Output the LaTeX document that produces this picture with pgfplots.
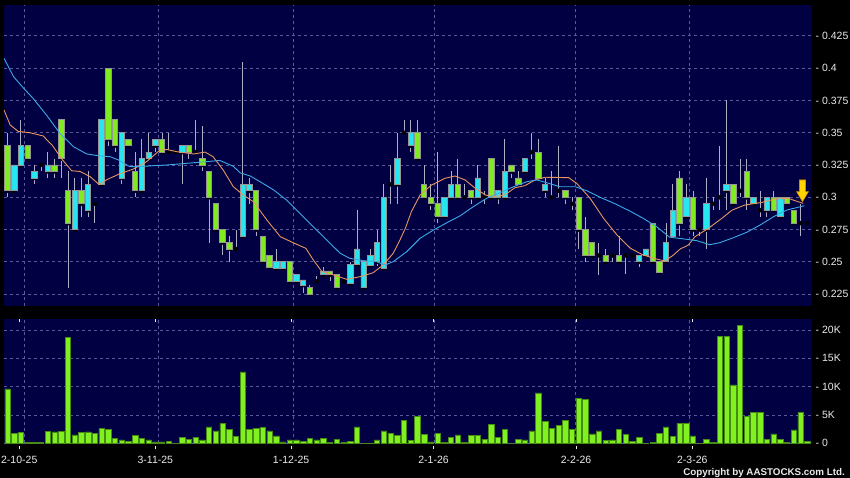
\documentclass[border=0pt]{standalone}
\usepackage{fontspec}
\setmainfont{Liberation Sans}
\usepackage{pgfplots}
\pgfplotsset{compat=1.18}
\usepackage{pgfplotstable}

\definecolor{navy}{RGB}{0,0,66}
\definecolor{gridc}{RGB}{88,88,155}
\definecolor{cgreen}{RGB}{128,236,32}
\definecolor{ccyan}{RGB}{40,230,240}
\definecolor{cedge}{RGB}{150,150,150}
\definecolor{wick}{RGB}{175,175,195}
\definecolor{maor}{RGB}{232,150,95}
\definecolor{mabl}{RGB}{60,170,230}
\definecolor{vgreen}{RGB}{128,240,32}
\definecolor{vedge}{RGB}{70,140,20}
\definecolor{lab}{RGB}{235,235,235}
\definecolor{arrowy}{RGB}{255,212,0}
\definecolor{arrowo}{RGB}{210,140,0}

% candles: index, low, high, body low, body high, colour (1 green, 2 cyan, 0 doji)
\pgfplotstableread{
x lo hi bl bh c
0 0.30 0.35 0.305 0.34 1
1 0.305 0.325 0.305 0.325 2
2 0.325 0.36 0.325 0.34 2
3 0.33 0.34 0.33 0.34 1
4 0.31 0.325 0.315 0.32 2
5 0.32 0.325 0.325 0.325 0
6 0.315 0.335 0.32 0.325 2
7 0.315 0.33 0.32 0.325 1
8 0.315 0.36 0.33 0.36 1
9 0.23 0.32 0.28 0.305 1
10 0.275 0.315 0.275 0.305 2
11 0.285 0.315 0.295 0.305 1
12 0.285 0.32 0.29 0.31 2
13 0.28 0.295 0.295 0.295 0
14 0.31 0.36 0.31 0.36 2
15 0.34 0.40 0.345 0.40 1
16 0.335 0.36 0.34 0.36 1
17 0.31 0.35 0.315 0.35 2
18 0.34 0.345 0.34 0.345 1
19 0.30 0.335 0.305 0.32 1
20 0.305 0.345 0.305 0.33 2
21 0.33 0.35 0.33 0.335 2
22 0.335 0.345 0.34 0.345 2
23 0.335 0.35 0.335 0.345 1
24 0.335 0.35 0.335 0.335 0
25 0.335 0.335 0.335 0.335 0
26 0.31 0.34 0.335 0.34 2
27 0.33 0.34 0.335 0.34 1
28 0.335 0.36 0.335 0.335 0
29 0.32 0.355 0.325 0.33 1
30 0.265 0.32 0.30 0.32 1
31 0.275 0.295 0.275 0.295 1
32 0.255 0.275 0.265 0.275 1
33 0.25 0.27 0.26 0.265 1
34 0.26 0.275 0.26 0.26 0
35 0.27 0.405 0.27 0.31 2
36 0.295 0.315 0.305 0.31 2
37 0.27 0.305 0.275 0.305 1
38 0.25 0.27 0.25 0.27 1
39 0.246 0.255 0.246 0.255 1
40 0.245 0.26 0.245 0.25 2
41 0.245 0.25 0.245 0.25 2
42 0.235 0.25 0.235 0.25 1
43 0.235 0.24 0.235 0.24 2
44 0.226 0.236 0.232 0.236 2
45 0.225 0.232 0.225 0.23 1
46 0.235 0.239 0.235 0.235 0
47 0.24 0.246 0.24 0.243 2
48 0.235 0.243 0.24 0.243 1
49 0.23 0.24 0.23 0.24 1
50 0.235 0.235 0.235 0.235 0
51 0.233 0.25 0.233 0.248 2
52 0.248 0.29 0.248 0.26 2
53 0.23 0.25 0.23 0.25 2
54 0.247 0.26 0.247 0.255 2
55 0.247 0.275 0.25 0.265 2
56 0.245 0.31 0.245 0.30 2
57 0.295 0.325 0.31 0.31 0
58 0.295 0.35 0.31 0.33 2
59 0.35 0.36 0.35 0.35 0
60 0.335 0.36 0.34 0.35 2
61 0.33 0.36 0.33 0.35 1
62 0.30 0.325 0.30 0.31 1
63 0.29 0.31 0.295 0.30 1
64 0.28 0.335 0.285 0.295 1
65 0.285 0.30 0.285 0.30 2
66 0.30 0.32 0.30 0.31 2
67 0.30 0.33 0.30 0.31 1
68 0.30 0.31 0.30 0.30 0
69 0.295 0.305 0.30 0.305 1
70 0.30 0.325 0.30 0.315 2
71 0.295 0.305 0.30 0.30 0
72 0.30 0.33 0.30 0.33 1
73 0.295 0.305 0.30 0.305 2
74 0.30 0.345 0.30 0.32 2
75 0.315 0.325 0.32 0.325 1
76 0.31 0.32 0.31 0.315 1
77 0.32 0.33 0.32 0.33 2
78 0.33 0.35 0.335 0.335 0
79 0.315 0.345 0.315 0.335 1
80 0.30 0.315 0.305 0.31 2
81 0.30 0.32 0.30 0.30 0
82 0.30 0.34 0.305 0.305 0
83 0.295 0.305 0.30 0.305 1
84 0.29 0.30 0.295 0.295 0
85 0.26 0.30 0.275 0.30 1
86 0.25 0.285 0.255 0.275 1
87 0.255 0.265 0.255 0.265 1
88 0.24 0.265 0.255 0.255 0
89 0.25 0.26 0.25 0.255 1
90 0.25 0.255 0.255 0.255 0
91 0.25 0.27 0.25 0.255 1
92 0.241 0.255 0.255 0.255 0
93 0.255 0.255 0.255 0.255 0
94 0.246 0.255 0.25 0.255 2
95 0.255 0.26 0.255 0.26 2
96 0.25 0.28 0.25 0.28 1
97 0.241 0.25 0.242 0.25 1
98 0.25 0.28 0.25 0.265 2
99 0.27 0.31 0.27 0.29 2
100 0.27 0.32 0.28 0.315 1
101 0.285 0.31 0.285 0.30 2
102 0.27 0.305 0.275 0.30 1
103 0.27 0.275 0.275 0.275 0
104 0.26 0.315 0.275 0.295 2
105 0.29 0.30 0.295 0.295 0
106 0.29 0.34 0.30 0.30 0
107 0.29 0.375 0.305 0.31 2
108 0.295 0.31 0.295 0.31 1
109 0.30 0.33 0.305 0.305 0
110 0.29 0.33 0.30 0.32 1
111 0.295 0.30 0.295 0.30 2
112 0.285 0.305 0.29 0.29 0
113 0.285 0.30 0.29 0.30 2
114 0.29 0.305 0.29 0.30 1
115 0.285 0.30 0.285 0.30 2
116 0.295 0.30 0.295 0.30 1
117 0.28 0.29 0.28 0.29 1
118 0.27 0.295 0.28 0.28 0
119 0.28 0.28 0.28 0.28 0
}\candles

% volume in thousands
\pgfplotstableread{
x v
0 9.6
1 1.8
2 1.9
3 0.2
4 0.1
5 0.2
6 2.1
7 2.0
8 2.1
9 18.7
10 1.5
11 1.9
12 2.0
13 1.8
14 2.6
15 2.4
16 0.9
17 0.6
18 0.35
19 1.35
20 0.9
21 0.6
22 0.25
23 0.25
24 0.35
25 0.05
26 1.05
27 0.65
28 1.1
29 0.6
30 2.9
31 2.2
32 3.5
33 2.5
34 1.2
35 12.6
36 2.4
37 2.7
38 2.8
39 2.2
40 1.3
41 0.25
42 0.6
43 0.6
44 0.4
45 0.9
46 0.6
47 0.8
48 0.2
49 0.75
50 0.1
51 0.3
52 2.9
53 0.05
54 0.05
55 0.6
56 2.2
57 1.8
58 1.35
59 4.1
60 0.5
61 4.8
62 1.6
63 0.25
64 1.7
65 0.2
66 1.1
67 1.5
68 0.2
69 1.35
70 1.4
71 0.75
72 3.35
73 1.1
74 2.5
75 0.0
76 0.7
77 0.6
78 2.2
79 8.9
80 3.8
81 2.7
82 3.1
83 4.1
84 2.5
85 7.9
86 7.8
87 1.65
88 2.2
89 0.5
90 0.6
91 2.5
92 1.6
93 0.35
94 1.05
95 0.0
96 0.1
97 1.8
98 2.9
99 1.2
100 3.5
101 3.5
102 1.3
103 0.05
104 0.65
105 0.2
106 18.8
107 18.9
108 10.3
109 20.8
110 4.8
111 5.4
112 5.5
113 0.75
114 1.65
115 0.7
116 0.1
117 2.35
118 5.5
119 0.35
}\volume

% short moving average (orange)
\pgfplotstableread{
x y
-0.52 0.3676
0.4 0.356
1.6 0.351
3.3 0.350
5.3 0.3475
6.7 0.340
8.1 0.3295
9.55 0.3205
10.8 0.320
12.3 0.316
13.6 0.310
14.8 0.3137
16.7 0.3182
18.7 0.3218
20.7 0.3276
22.7 0.3366
23.7 0.337
25.2 0.3353
27.7 0.3335
29.4 0.335
30.6 0.3314
32.1 0.3211
33.6 0.3082
35.1 0.3018
36.6 0.2966
38.6 0.2824
40.6 0.2695
42.5 0.2649
44.4 0.2605
45.5 0.2515
46.8 0.2424
48.5 0.2399
50.5 0.2365
52.5 0.2386
54.4 0.2416
55.9 0.2476
57.4 0.2567
58.4 0.267
59.2 0.276
60.1 0.2889
61.4 0.3018
63.1 0.3095
65.1 0.3147
66.6 0.3165
68.1 0.3134
69.6 0.307
71.1 0.3018
72.3 0.3005
74 0.3018
75.5 0.3074
77 0.309
78.5 0.3134
80 0.3155
83.5 0.3152
84.7 0.3108
86.7 0.2992
88.7 0.2837
90.7 0.2708
92.7 0.2605
94.6 0.2553
96.6 0.2522
97.8 0.2507
99.1 0.2553
100.1 0.26
101.3 0.263
102.3 0.2695
104.3 0.276
106.3 0.2837
107.8 0.290
109.7 0.294
112.2 0.296
114.2 0.2987
116.2 0.2992
117.4 0.297
118.4 0.2953
}\maten

% long moving average (blue)
\pgfplotstableread{
x y
-0.52 0.4076
0.9 0.3934
2.4 0.3844
3.8 0.3766
5.8 0.3637
7.8 0.3495
9.8 0.3392
11.8 0.3335
13.8 0.332
15.3 0.3314
16.5 0.3289
18.2 0.3237
19.7 0.3237
21.7 0.3245
23.7 0.325
26.7 0.3263
29.6 0.3276
31.6 0.3285
33.6 0.324
34.6 0.319
36.1 0.3165
37.6 0.312
39.6 0.3057
41.5 0.298
43.5 0.2876
45.5 0.2772
47.5 0.267
49.5 0.2567
50.9 0.2528
52.9 0.251
54.9 0.2502
56.2 0.2476
57.4 0.2502
59.4 0.2579
61.4 0.2683
63.4 0.2747
65.4 0.2804
67.3 0.2855
69.3 0.2927
71.3 0.2992
73.3 0.3036
75.3 0.3082
77.3 0.3121
78.8 0.3134
80.2 0.3113
82.2 0.3082
84.5 0.3082
86.2 0.3051
88.2 0.300
90.4 0.295
92.6 0.2894
94.6 0.2837
96.6 0.2772
98.5 0.2692
100.3 0.268
102.6 0.2664
104.5 0.2633
106 0.2649
108 0.2687
110 0.2729
112 0.2786
114 0.285
116 0.2902
118 0.2927
118.6 0.2935
}\matwenty

\pgfplotsset{
  pricebase/.style={scale only axis, width=807.7pt, height=301pt,
    xmin=-0.52, xmax=119.67, ymin=0.21587, ymax=0.44884,
    at={(4pt,172pt)}, anchor=south west},
  labfont/.style={font=\fontsize{10.5}{12}\selectfont, text=lab},
}

\begin{document}
\begin{tikzpicture}
\fill[black] (0,0) rectangle (850pt,478pt);

% price panel: background, grid, labels, wicks
\begin{axis}[pricebase,
  axis background/.style={fill=navy},
  axis line style={draw=none},
  /pgf/number format/assume math mode=true,
  xtick={2.5,22.5,42.5,63.5,84.5,101.5}, xticklabels={},
  ytick={0.225,0.25,0.275,0.3,0.325,0.35,0.375,0.4,0.425},
  yticklabels={- 0.225,- 0.25,- 0.275,- 0.3,- 0.325,- 0.35,- 0.375,- 0.4,- 0.425},
  yticklabel pos=right,
  yticklabel style={anchor=west, inner sep=0pt, xshift=3.8pt, labfont},
  major tick length=0pt,
  grid=major,
  major grid style={gridc, dash pattern=on 3pt off 3pt, line width=0.8pt},
]
\addplot[only marks, mark=none,
  error bars/.cd, y dir=both, y explicit, error mark=none,
  error bar style={draw=wick, line width=0.9pt, solid}]
  table[x=x, y=bl, y error plus expr={\thisrow{hi}-\thisrow{bl}},
        y error minus expr={\thisrow{bl}-\thisrow{lo}}] {\candles};
\end{axis}

% candle bodies
\begin{axis}[pricebase, hide axis, ybar stacked, bar width=0.8]
\addplot[draw=none, fill=none] table[x=x, y=bl] {\candles};
\addplot[fill=cgreen, draw=cedge, line width=0.8pt]
  table[x=x, y expr={\thisrow{c}==1 ? \thisrow{bh}-\thisrow{bl} : 0}] {\candles};
\addplot[fill=ccyan, draw=cedge, line width=0.8pt]
  table[x=x, y expr={\thisrow{c}==2 ? \thisrow{bh}-\thisrow{bl} : 0}] {\candles};
\end{axis}

% moving averages and arrow
\begin{axis}[pricebase, hide axis]
\addplot[maor, line width=0.9pt] table[x=x, y=y] {\maten};
\addplot[mabl, line width=0.9pt] table[x=x, y=y] {\matwenty};
\addplot[fill=arrowy, draw=arrowo, line width=0.6pt] coordinates {
  (117.85,0.3134) (118.75,0.3134) (118.75,0.3043) (119.17,0.3043)
  (118.3,0.2966) (117.43,0.3043) (117.85,0.3043)} -- cycle;
\end{axis}

% volume panel
\begin{axis}[scale only axis, width=807.7pt, height=124.3pt,
  at={(4pt,34.7pt)}, anchor=south west,
  xmin=-0.52, xmax=119.67, ymin=0, ymax=21.94,
  axis background/.style={fill=navy},
  axis line style={draw=none},
  /pgf/number format/assume math mode=true,
  xtick={2.5,22.5,42.5,63.5,84.5,101.5}, xticklabels={},
  extra x ticks={1.75,22,42.2,63.4,84.6,101.9},
  extra x tick labels={2-10-25,3-11-25,1-12-25,2-1-26,2-2-26,2-3-26},
  extra x tick style={grid=none, major tick length=3pt, tick align=outside,
     tick style={draw=lab, line width=0.7pt, yshift=-3pt}},
  xticklabel style={anchor=north, inner sep=0pt, yshift=-10pt, labfont},
  ytick={0,5,10,15,20},
  yticklabels={- 0,- 5K,- 10K,- 15K,- 20K},
  yticklabel pos=right,
  yticklabel style={anchor=west, inner sep=0pt, xshift=3.8pt, labfont},
  major tick length=0pt,
  grid=major,
  major grid style={gridc, dash pattern=on 3pt off 3pt, line width=0.8pt},
  ybar, bar width=0.8,
]
\addplot[fill=vgreen, draw=vedge, line width=0.6pt] table[x=x, y=v] {\volume};
\end{axis}

\node[anchor=base east, inner sep=0pt, text=lab, font=\bfseries\fontsize{9.8}{11}\selectfont]
  at (845pt,2.6pt) {Copyright by AASTOCKS.com Ltd.};

\pgfresetboundingbox
\path (0,0) rectangle (850pt,478pt);
\end{tikzpicture}
\end{document}
